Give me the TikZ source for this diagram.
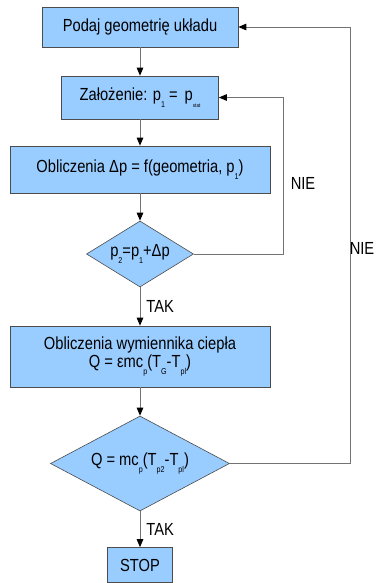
\documentclass[tikz,border=0pt]{standalone}
\usepackage{fontspec}
\setmainfont{Liberation Sans}[FakeStretch=0.84]
\usetikzlibrary{arrows.meta,shapes,positioning}
\definecolor{boxblue}{RGB}{153,204,255}
\newcommand{\lo}[1]{\raisebox{-0.7ex}{\fontsize{8.5}{8.5}\selectfont #1}}

\begin{document}
\begin{tikzpicture}[->,>={Triangle[length=8pt,width=6.5pt,black]},
x=1pt,y=-1pt,node distance=70pt,
font=\fontsize{17.5}{20}\selectfont,
line width=0.9pt, draw=black!55]
\tikzstyle{every node}=[draw=none]
\tikzset{
	stepbox/.style={
		rectangle,
		fill=boxblue,
		draw=black!70,
		line width=0.6pt,
		inner sep=0pt,
		align=center
	},
	testbox/.style={
		diamond,
		aspect=1.6,
		fill=boxblue,
		draw=black!70,
		line width=0.6pt,
		inner sep=0pt
	},
	line/.style={draw=black!55, line width=0.9pt}
}
\useasboundingbox (0,0) rectangle (379,583);

\node[stepbox, minimum width=196pt, minimum height=40pt] (B1) at (140,27) {Podaj geometrię układu};

\node[stepbox, minimum width=157pt, minimum height=43pt, below of=B1, node distance=70.5pt]
(B2) {Założenie: p\lo{1} =\, p\lo{\fontsize{5.5}{5.5}\selectfont stat}};

\node[stepbox, minimum width=260pt, minimum height=47pt, below of=B2, node distance=72pt]
(B3) {Obliczenia Δp = f(geometria, p\lo{1})};

\node[testbox, minimum width=107pt, minimum height=66pt, below of=B3, node distance=84.5pt]
(D1) {p\lo{2}=p\lo{1}+Δp};

\node[stepbox, minimum width=260pt, minimum height=61pt, below of=D1, node distance=102.5pt]
(B4) {Obliczenia wymiennika ciepła\\[-2pt] Q = εmc\lo{p}(T\lo{G}-T\lo{pl})};

\node[testbox, minimum width=179pt, minimum height=95pt, below of=B4, node distance=107pt]
(D2) {Q = mc\lo{p}(T\lo{p2}-T\lo{pl})};

\node[stepbox, minimum width=65pt, minimum height=35pt, below of=D2, node distance=101.5pt]
(STOP) {STOP};

%main flow
\path[line,->] (B1) edge (B2);
\path[line,->] (B2) edge (B3);
\path[line,->] (B3) edge (D1);
\path[line,->] (D1) edge node[right, inner sep=6pt] {TAK} (B4);
\path[line,->] (B4) edge (D2);
\path[line,->] (D2) edge node[right, inner sep=6pt] {TAK} (STOP);

%feedback loops
\draw[line,->] (D1.east) -| ([xshift=64.5pt]B2.east) -- (B2.east);
\draw[line,->] (D2.east) -| ([xshift=112pt]B1.east) -- (B1.east);

\node (NIE1) at (303,183) {NIE};
\node (NIE2) at (362,248) {NIE};

\end{tikzpicture}
\end{document}
